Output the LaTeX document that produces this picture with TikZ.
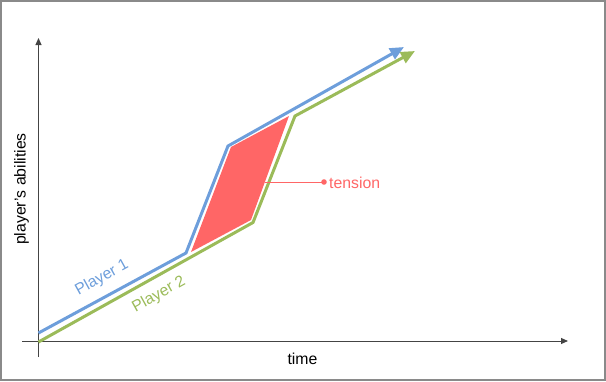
\documentclass[tikz,border=0pt]{standalone}
\usepackage{fontspec}
\setmainfont{Liberation Sans}
\usetikzlibrary{arrows.meta}
\definecolor{pblue}{HTML}{6D9EDB}
\definecolor{pgreen}{HTML}{9BBB59}
\definecolor{pred}{HTML}{FF6666}
\definecolor{axisgray}{HTML}{444444}
\definecolor{framegray}{HTML}{8A8A8A}
\tikzset{
  axisline/.style={draw=axisgray, line width=1pt, -{Triangle[length=7pt,width=6pt]}},
  playerline/.style={line width=3pt, line join=miter, -{Triangle[length=14pt,width=12pt]}},
  lbl/.style={inner sep=0pt, font=\fontsize{15.8}{18}\selectfont},
}
\begin{document}
\begin{tikzpicture}[x=1pt,y=-1pt]
\useasboundingbox (0,0) rectangle (606,381);
\draw[framegray, line width=2pt] (1,1) rectangle (605,380);

% axes
\coordinate (ybot) at (38.5,357);
\coordinate (ytop) at (38.5,38);
\coordinate (xleft) at (22,341);
\coordinate (xright) at (568,341);
\draw[axisline] (ybot) -- (ytop);
\draw[axisline] (xleft) -- (xright);

% tension area
\coordinate (r1) at (191,252);
\coordinate (r2) at (231,147);
\coordinate (r3) at (289,116);
\coordinate (r4) at (251,220);
\fill[pred] (r1) -- (r2) -- (r3) -- (r4) -- cycle;

% player 1
\coordinate (b0) at (38.5,333);
\coordinate (b1) at (186,253);
\coordinate (b2) at (228,146);
\coordinate (b3) at (404,47);
\draw[playerline, pblue] (b0) -- (b1) -- (b2) -- (b3);

% player 2
\coordinate (g0) at (38.5,342);
\coordinate (g1) at (253,222.5);
\coordinate (g2) at (295,116);
\coordinate (g3) at (415,51);
\draw[playerline, pgreen] (g0) -- (g1) -- (g2) -- (g3);

% tension label
\coordinate (tstart) at (265,182);
\coordinate (tdot) at (324,182);
\draw[pred, line width=1pt] (tstart) -- (tdot);
\fill[pred] (tdot) circle (2.8pt);
\node[lbl, text=pred, anchor=base west] (tension) at (329,188) {tension};

% labels
\node[lbl, text=pblue, rotate=29] (p1) at (102,278) {Player 1};
\node[lbl, text=pgreen, rotate=29] (p2) at (159,294.5) {Player 2};
\node[lbl, anchor=base] (time) at (302.5,364) {time};
\node[lbl, rotate=90, anchor=base] (abil) at (25.5,189) {player's abilities};
\end{tikzpicture}
\end{document}
